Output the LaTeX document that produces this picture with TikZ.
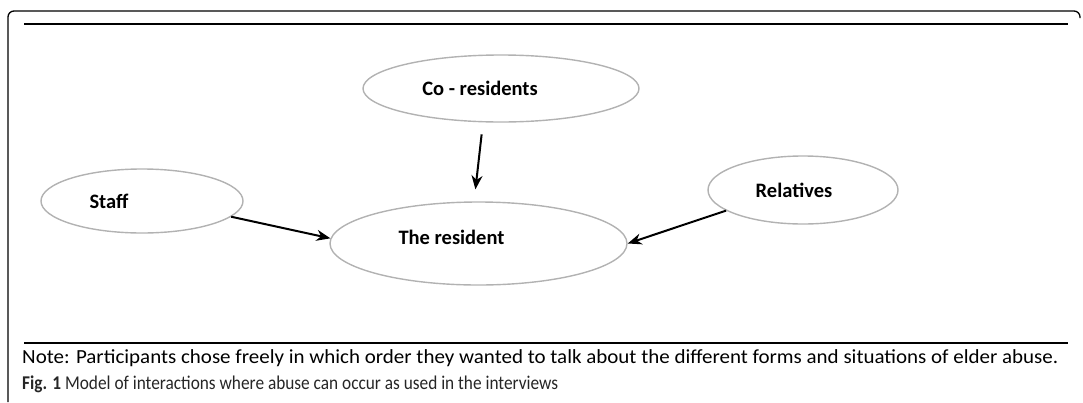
\documentclass[tikz,border=0pt]{standalone}
\usepackage{fontspec}
\setmainfont{Carlito}
\usetikzlibrary{arrows.meta, shapes.geometric}

\begin{document}
\begin{tikzpicture}[
    x=1pt, y=-1pt, >={Stealth[length=14pt, width=11pt]},
    actor/.style={draw=gray!60, line width=1.4pt, ellipse, inner sep=0pt},
    link/.style={->, line width=2pt},
    rule/.style={line width=2.2pt},
    lbl/.style={font=\fontsize{20.5}{24}\selectfont\bfseries}
  ]
  \useasboundingbox (0,0) rectangle (1083,402);

  % frame and rules
  \draw[line width=1.3pt, rounded corners=6pt] (8,402) -- (8,11) -- (1080,11) -- (1080,18);
  \draw[rule] (24,24) -- (1068,24);
  \draw[rule] (24,343) -- (1068,343);

  % actors
  \node[actor, minimum width=276pt, minimum height=67pt,
        label={[lbl, xshift=-21pt]center:Co - residents}] (co) at (501,88.5) {};
  \node[actor, minimum width=202pt, minimum height=64pt,
        label={[lbl, xshift=-33pt]center:Staff}] (staff) at (142,201) {};
  \node[actor, minimum width=190pt, minimum height=68pt,
        label={[lbl, xshift=-9pt]center:Relatives}] (rel) at (803,190) {};
  \node[actor, minimum width=297pt, minimum height=83pt,
        label={[lbl, xshift=-27pt, yshift=6.5pt]center:The resident}] (res) at (478.5,243.5) {};

  \draw[link, shorten <=12pt, shorten >=12pt] (co.-118) -- (res.96);
  \draw[link] (staff.-10) -- (res.178);
  \draw[link] (rel.-165) -- (res.0);

  % note and caption
  \node[anchor=west, inner sep=0pt] (note) at (22,358)
    {\resizebox{1036pt}{\height}{\fontsize{20}{24}\selectfont Note: Participants chose freely in which order they wanted to talk about the different forms and situations of elder abuse.}};
  \node[anchor=west, inner sep=0pt, text=black!85] (cap) at (22,384)
    {\resizebox{536pt}{\height}{\fontsize{19.5}{23}\selectfont\textbf{Fig. 1} Model of interactions where abuse can occur as used in the interviews}};
\end{tikzpicture}
\end{document}
